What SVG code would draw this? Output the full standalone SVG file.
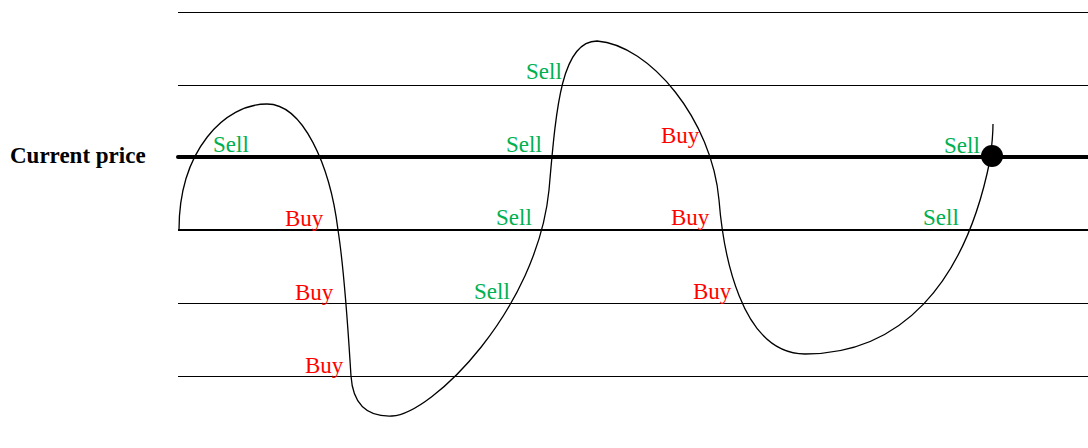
<svg xmlns="http://www.w3.org/2000/svg" width="1088" height="448" viewBox="0 0 1088 448">
<style>
.lvl{stroke:#000;stroke-width:1;fill:none}
.t{font-family:"Liberation Serif","Times New Roman",serif;font-size:23px}
.sell{fill:#00B050}
.buy{fill:#FF0000}
</style>
<rect width="1088" height="448" fill="#fff"/>
<g id="levels">
<line class="lvl" x1="178" y1="12.5" x2="1088" y2="12.5"/>
<line class="lvl" x1="178" y1="85.5" x2="1088" y2="85.5"/>
<line x1="178" y1="157" x2="1088" y2="157" stroke="#000" stroke-width="4" stroke-linecap="round"/>
<line x1="178" y1="230" x2="1088" y2="230" stroke="#000" stroke-width="2"/>
<line class="lvl" x1="178" y1="303.5" x2="1088" y2="303.5"/>
<line class="lvl" x1="178" y1="376.5" x2="1088" y2="376.5"/>
</g>
<g id="price-path">
<path d="M179 230 C179 150 225 104 267 104 C303 104 330 165 338 230 C345 275 348 330 351 376 C353 406 368 417 392 416 C432 414 537 310 549 190 C556 110 561 41 597 41 C650 45 712 120 719 200 C723 250 740 354 805 354 C900 354 965 285 990 160 C992 145 993 135 993 124" fill="none" stroke="#000" stroke-width="1.3"/>
</g>
<g id="current-dot">
<circle cx="992" cy="156" r="11" fill="#000"/>
</g>
<g id="labels" class="t">
<text x="10" y="163" font-weight="bold">Current price</text>
<text class="sell" x="213" y="152">Sell</text>
<text class="buy" x="285" y="226">Buy</text>
<text class="buy" x="295" y="300">Buy</text>
<text class="buy" x="305" y="373">Buy</text>
<text class="sell" x="526" y="79">Sell</text>
<text class="sell" x="506" y="152">Sell</text>
<text class="sell" x="496" y="225">Sell</text>
<text class="sell" x="474" y="299">Sell</text>
<text class="buy" x="661" y="143">Buy</text>
<text class="buy" x="671" y="225">Buy</text>
<text class="buy" x="693" y="299">Buy</text>
<text class="sell" x="944" y="153">Sell</text>
<text class="sell" x="923" y="225">Sell</text>
</g>
</svg>
